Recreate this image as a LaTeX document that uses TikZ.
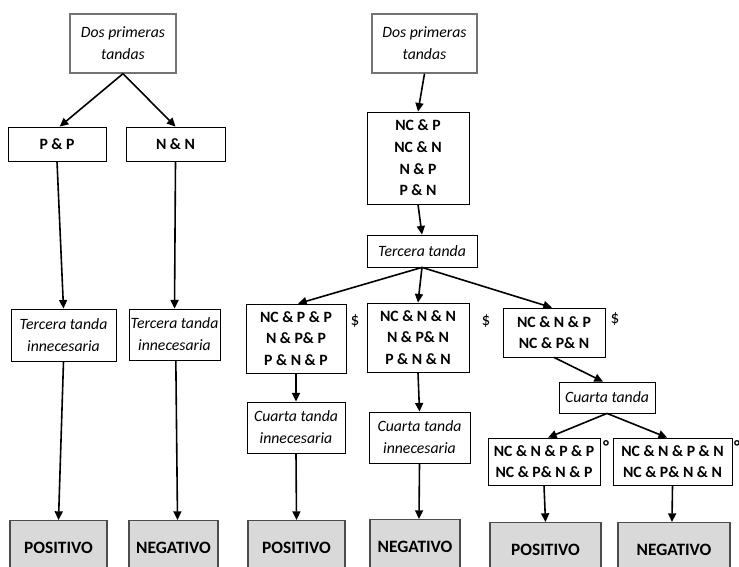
\documentclass[tikz,border=0pt]{standalone}
\usepackage{fontspec}
\setmainfont{Carlito}
\usetikzlibrary{arrows.meta}
\begin{document}
\begin{tikzpicture}[x=0.75pt,y=-0.75pt,
  base/.style={align=center, inner sep=0pt, font=\fontsize{11.8}{16.3}\selectfont},
  box/.style={base, draw=black, line width=0.6pt, fill=white},
  topbox/.style={base, draw=gray!90!black, line width=1pt, fill=white},
  bt/.style={font=\fontsize{11.8}{16.3}\selectfont\bfseries},
  it/.style={font=\fontsize{11.8}{16.5}\selectfont\itshape},
  res/.style={base, draw=black!70, line width=0.8pt, fill=black!15, anchor=north, minimum height=54*0.75pt, font=\fontsize{13}{16.3}\selectfont\bfseries},
  sz/.style 2 args={minimum width=#1*0.75pt, minimum height=#2*0.75pt},
  arr/.style={-{Triangle[length=6.5pt,width=6pt]}, line width=1.2pt, black},
  sym/.style={base, font=\fontsize{13}{16}\selectfont}
]
\useasboundingbox (0,0) rectangle (739,567);

% left tree
\node[topbox, sz={106}{59}, it] (dosL) at (123,43.5) {Dos primeras\\tandas};
\node[box, sz={98}{34}, bt] (pp) at (57,144) {P \& P};
\node[box, sz={99}{34}, bt] (nn) at (175.5,144) {N \& N};
\node[box, sz={105}{52}, it] (terL) at (63.5,335) {Tercera tanda\\innecesaria};
\node[box, sz={91}{51}, it] (terR) at (174.5,334.5) {Tercera tanda\\innecesaria};
\node[res, minimum width=97*0.75pt] (posL) at (58.5,520) {POSITIVO};
\node[res, minimum width=89*0.75pt] (negL) at (173.5,520) {NEGATIVO};

% right tree
\node[topbox, sz={105}{59}, it] (dosR) at (424.5,43.5) {Dos primeras\\tandas};
\node[box, sz={102}{92}, bt] (nc4) at (418,158) {NC \& P\\NC \& N\\N \& P\\P \& N};
\node[box, sz={110}{32}, it] (ter3) at (422,251) {Tercera tanda};
\node[box, sz={100}{69}, bt] (pp3) at (296,338.5) {NC \& P \& P\\N \& P\& P\\P \& N \& P};
\node[box, sz={102}{69}, bt] (nn3) at (418,337.5) {NC \& N \& N\\N \& P\& N\\P \& N \& N};
\node[box, sz={102}{49}, bt] (np3) at (554,332.5) {NC \& N \& P\\NC \& P\& N};
\node[box, sz={98}{51}, it] (cuL) at (296,427.5) {Cuarta tanda\\innecesaria};
\node[box, sz={101}{51}, it] (cuM) at (419.5,437.5) {Cuarta tanda\\innecesaria};
\node[box, sz={96}{31}, it] (cu) at (607,397.5) {Cuarta tanda};
\node[box, sz={112}{47}, bt] (b4L) at (544,461.5) {NC \& N \& P \& P\\NC \& P\& N \& P};
\node[box, sz={119}{47}, bt] (b4R) at (672.5,461.5) {NC \& N \& P \& N\\NC \& P\& N \& N};
\node[res, minimum width=97*0.75pt] (posM) at (296.5,520) {POSITIVO};
\node[res, minimum width=90*0.75pt] (negM) at (415,519) {NEGATIVO};
\node[res, minimum width=111*0.75pt] (posR) at (545.5,522) {POSITIVO};
\node[res, minimum width=112*0.75pt] (negR) at (674,522) {NEGATIVO};

% symbols
\node[sym] (d1) at (355,321) {\$};
\node[sym] (d2) at (486,321) {\$};
\node[sym] (d3) at (615,319) {\$};
\node[sym, font=\fontsize{13}{16}\selectfont\bfseries] (o1) at (606,447) {°};
\node[sym, font=\fontsize{13}{16}\selectfont\bfseries] (o2) at (737,447) {°};

% connectors
\draw[arr] (dosL.south) -- ([xshift=2pt]pp.north);
\draw[arr] (dosL.south) -- (nn.north);
\draw[arr] (pp.south) -- (terL.north);
\draw[arr] (nn.south) -- (terR.north);
\draw[arr] (terL.south) -- (posL.north);
\draw[arr] ([xshift=1pt]terR.south) -- ([xshift=3pt]negL.north);

\draw[arr] (dosR.south) -- (nc4.north);
\draw[arr] (nc4.south) -- (ter3.north);
\draw[arr] (ter3.south) -- ([xshift=1.5pt]pp3.north);
\draw[arr] (ter3.south) -- (nn3.north);
\draw[arr] (ter3.south) -- ([xshift=-1.5pt]np3.north);
\draw[arr] (pp3.south) -- (cuL.north);
\draw[arr] (cuL.south) -- (posM.north);
\draw[arr] (nn3.south) -- (cuM.north);
\draw[arr] (cuM.south) -- ([xshift=3pt]negM.north);
\draw[arr] (np3.south) -- ([xshift=-3pt]cu.north);
\draw[arr] (cu.south) -- ([xshift=3pt]b4L.north);
\draw[arr] (cu.south) -- ([xshift=-4pt]b4R.north);
\draw[arr] (b4L.south) -- (posR.north);
\draw[arr] (b4R.south) -- ([xshift=-1.5pt]negR.north);
\end{tikzpicture}
\end{document}
